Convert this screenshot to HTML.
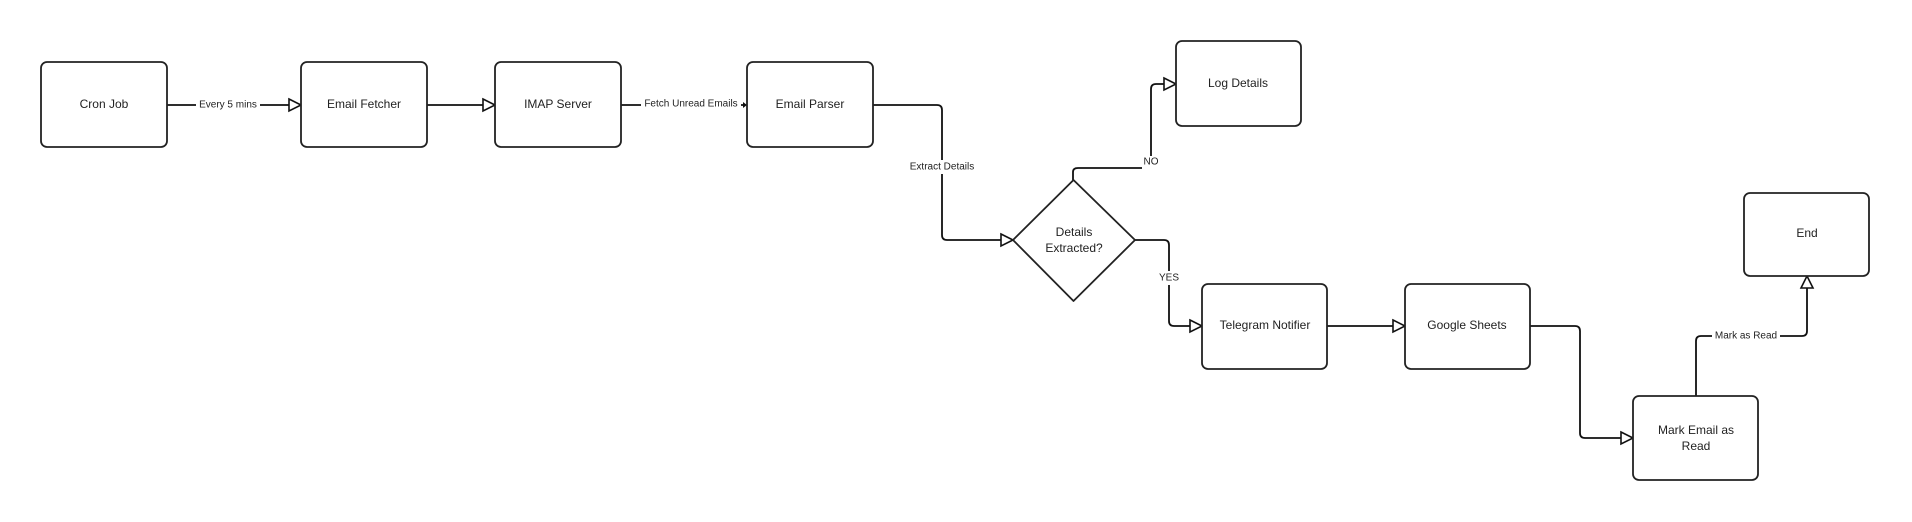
<!DOCTYPE html>
<html><head><meta charset="utf-8"><style>
html,body{margin:0;padding:0;background:#fff;}
svg{display:block;}
text{font-family:"Liberation Sans",sans-serif;fill:#222;}
.n{font-size:12px;text-anchor:middle;dominant-baseline:middle;}
.l{font-size:10px;text-anchor:middle;dominant-baseline:middle;}
.b{fill:#fff;stroke:#222;stroke-width:1.8;}
.c{fill:none;stroke:#111;stroke-width:1.8;stroke-linejoin:round;}
.a{fill:#fff;stroke:#111;stroke-width:1.6;}
.bg{fill:#fff;}
</style></head><body>
<svg width="1912" height="522" viewBox="0 0 1912 522">
<!-- connectors -->
<path class="c" d="M167 105 H289"/>
<path class="c" d="M427 105 H483"/>
<path class="c" d="M621 105 H744"/>
<path class="c" d="M873 105 H937 Q942 105 942 110 V235 Q942 240 947 240 H1001"/>
<path class="c" d="M1073 180 V172 Q1073 168 1078 168 H1146 Q1151 168 1151 163 V89 Q1151 84 1156 84 H1164"/>
<path class="c" d="M1135 240 H1164 Q1169 240 1169 245 V321 Q1169 326 1174 326 H1190"/>
<path class="c" d="M1327 326 H1393"/>
<path class="c" d="M1529 326 H1575 Q1580 326 1580 331 V433 Q1580 438 1585 438 H1621"/>
<path class="c" d="M1696 396 V341 Q1696 336 1701 336 H1802 Q1807 336 1807 331 V288"/>
<!-- arrowheads -->
<polygon class="a" points="289,99 301,105 289,111"/>
<polygon class="a" points="483,99 495,105 483,111"/>
<polygon points="743,102 747,105 743,108" fill="#111"/>
<polygon class="a" points="1001,234 1013,240 1001,246"/>
<polygon class="a" points="1164,78 1176,84 1164,90"/>
<polygon class="a" points="1190,320 1202,326 1190,332"/>
<polygon class="a" points="1393,320 1405,326 1393,332"/>
<polygon class="a" points="1621,432 1633,438 1621,444"/>
<polygon class="a" points="1801,288 1807,276 1813,288"/>
<!-- labels -->
<rect class="bg" x="196" y="98" width="64" height="14"/><text class="l" x="228" y="105">Every 5 mins</text>
<rect class="bg" x="641" y="98" width="100" height="14"/><text class="l" x="691" y="104">Fetch Unread Emails</text>
<rect class="bg" x="907" y="160" width="70" height="14"/><text class="l" x="942" y="167">Extract Details</text>
<rect class="bg" x="1142" y="156" width="18" height="14"/><text class="l" x="1151" y="162">NO</text>
<rect class="bg" x="1158" y="271" width="22" height="14"/><text class="l" x="1169" y="278">YES</text>
<rect class="bg" x="1712" y="329" width="68" height="14"/><text class="l" x="1746" y="336">Mark as Read</text>
<!-- nodes -->
<rect class="b" x="41" y="62" width="126" height="85" rx="6"/><text class="n" x="104" y="105">Cron Job</text>
<rect class="b" x="301" y="62" width="126" height="85" rx="6"/><text class="n" x="364" y="105">Email Fetcher</text>
<rect class="b" x="495" y="62" width="126" height="85" rx="6"/><text class="n" x="558" y="105">IMAP Server</text>
<rect class="b" x="747" y="62" width="126" height="85" rx="6"/><text class="n" x="810" y="105">Email Parser</text>
<rect class="b" x="1176" y="41" width="125" height="85" rx="6"/><text class="n" x="1238" y="84">Log Details</text>
<path class="b" d="M1073.5 180 L1135 240 L1073.5 301 L1013 240 Z" stroke-linejoin="round"/>
<text class="n" x="1074" y="233">Details</text><text class="n" x="1074" y="249">Extracted?</text>
<rect class="b" x="1202" y="284" width="125" height="85" rx="6"/><text class="n" x="1265" y="326">Telegram Notifier</text>
<rect class="b" x="1405" y="284" width="125" height="85" rx="6"/><text class="n" x="1467" y="326">Google Sheets</text>
<rect class="b" x="1633" y="396" width="125" height="84" rx="6"/><text class="n" x="1696" y="431">Mark Email as</text><text class="n" x="1696" y="447">Read</text>
<rect class="b" x="1744" y="193" width="125" height="83" rx="6"/><text class="n" x="1807" y="234">End</text>
</svg>
</body></html>
